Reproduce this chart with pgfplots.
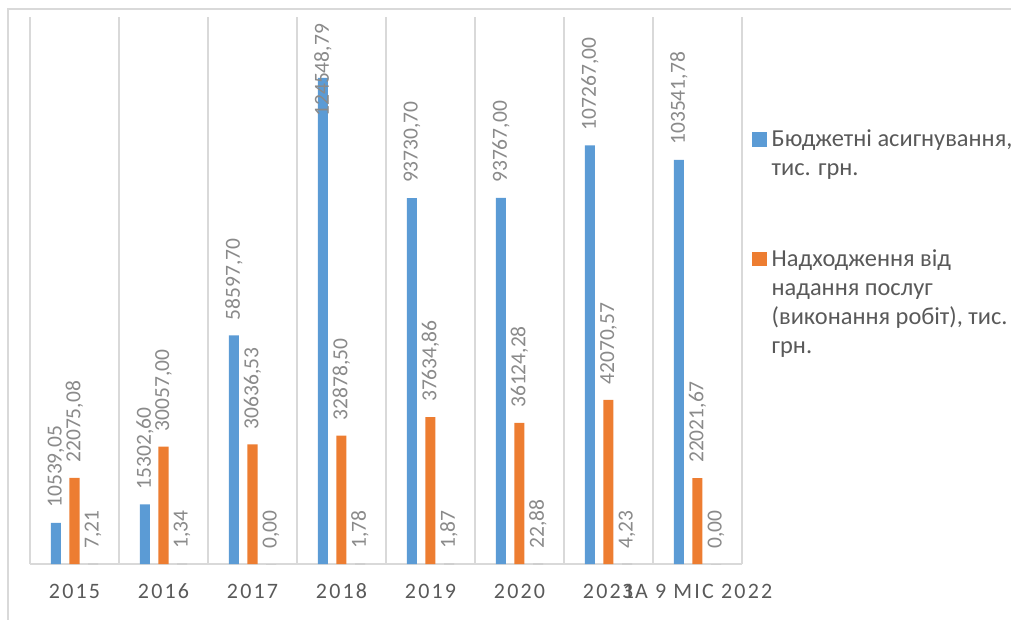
\documentclass[border=0pt]{standalone}
\usepackage{pgfplots}
\pgfplotsset{compat=1.18}
\usepackage{pgfplotstable}
\usepackage{fontspec}
\setmainfont{Carlito}
\newfontfamily\tickfamily[LetterSpace=10]{Carlito}
\definecolor{cblue}{HTML}{5B9BD5}
\definecolor{corange}{HTML}{ED7D31}
\definecolor{gridgray}{HTML}{D9D9D9}
\definecolor{labgray}{HTML}{8A8A8A}
\definecolor{txtgray}{HTML}{595959}

\pgfplotstableread{
x b bl bs o ol t tl
0 10539.05 10539,05 0 22075.08 22075,08 7.21 7,21
1 15302.60 15302,60 0 30057.00 30057,00 1.34 1,34
2 58597.70 58597,70 0 30636.53 30636,53 0.00 0,00
3 124548.79 124548,79 -54 32878.50 32878,50 1.78 1,78
4 93730.70 93730,70 0 37634.86 37634,86 1.87 1,87
5 93767.00 93767,00 0 36124.28 36124,28 22.88 22,88
6 107267.00 107267,00 0 42070.57 42070,57 4.23 4,23
7 103541.78 103541,78 0 22021.67 22021,67 0.00 0,00
}\data

\begin{document}
\begin{tikzpicture}
\useasboundingbox (0,0) rectangle (1011bp,620bp);
\draw[gridgray, line width=1.5bp] (8bp,0) -- (8bp,611bp) -- (1011bp,611bp);
\begin{axis}[
  at={(30bp,56bp)}, anchor=south west,
  scale only axis, width=712bp, height=546.5bp,
  xmin=-0.5, xmax=7.5, ymin=0, ymax=140000,
  clip=false,
  scaled y ticks=false,
  ybar, bar width=10bp,
  axis line style={draw=none},
  xtick={0,...,7},
  xticklabels={2015,2016,2017,2018,2019,2020,2021,ЗА 9 МІС 2022},
  minor xtick={-0.5,0.5,...,7.5},
  xminorgrids,
  minor grid style={draw=gridgray, line width=1.5bp},
  ytick={0}, yticklabel=\empty, ymajorgrids,
  major grid style={draw=gridgray, line width=1.5bp},
  major tick length=0pt, minor tick length=0pt,
  xticklabel style={font=\tickfamily\fontsize{22bp}{26bp}\selectfont, text=txtgray, anchor=base, yshift=-34.3bp, inner sep=0pt},
  nodes near coords,
  point meta=explicit symbolic,
  every node near coord/.append style={rotate=90, anchor=west, inner xsep=15bp, inner ysep=0pt, font=\fontsize{21.5bp}{24bp}\selectfont, text=labgray},
  legend style={at={(axis description cs:1.01404,0.8007)}, anchor=north west, draw=none, fill=none, inner sep=0pt, row sep=97.3bp, column sep=5bp,
    nodes={inner sep=0pt, font=\fontsize{24.4bp}{29bp}\selectfont, text=txtgray}},
  legend cell align=left,
  legend style={cells={anchor=base west}},
  legend image code/.code={\fill[#1, draw=none] (0bp,0bp) rectangle (14.5bp,14.5bp);},
]
\addplot[fill=cblue, draw=none, bar shift=-18.5bp,
  visualization depends on={\thisrow{bs} \as \lshift},
  every node near coord/.append style={xshift=\lshift bp}]
  table[x=x, y=b, meta=bl] {\data};
\addlegendentry{\begin{tabular}[t]{@{}l@{}}Бюджетні асигнування,\\тис. грн.\end{tabular}}
\addplot[fill=corange, draw=none, bar shift=0bp]
  table[x=x, y=o, meta=ol] {\data};
\addlegendentry{\begin{tabular}[t]{@{}l@{}}Надходження від\\надання послуг\\(виконання робіт), тис.\\грн.\end{tabular}}
\addplot[fill=labgray, draw=none, bar shift=18.5bp, forget plot]
  table[x=x, y=t, meta=tl] {\data};
\end{axis}
\end{tikzpicture}
\end{document}
